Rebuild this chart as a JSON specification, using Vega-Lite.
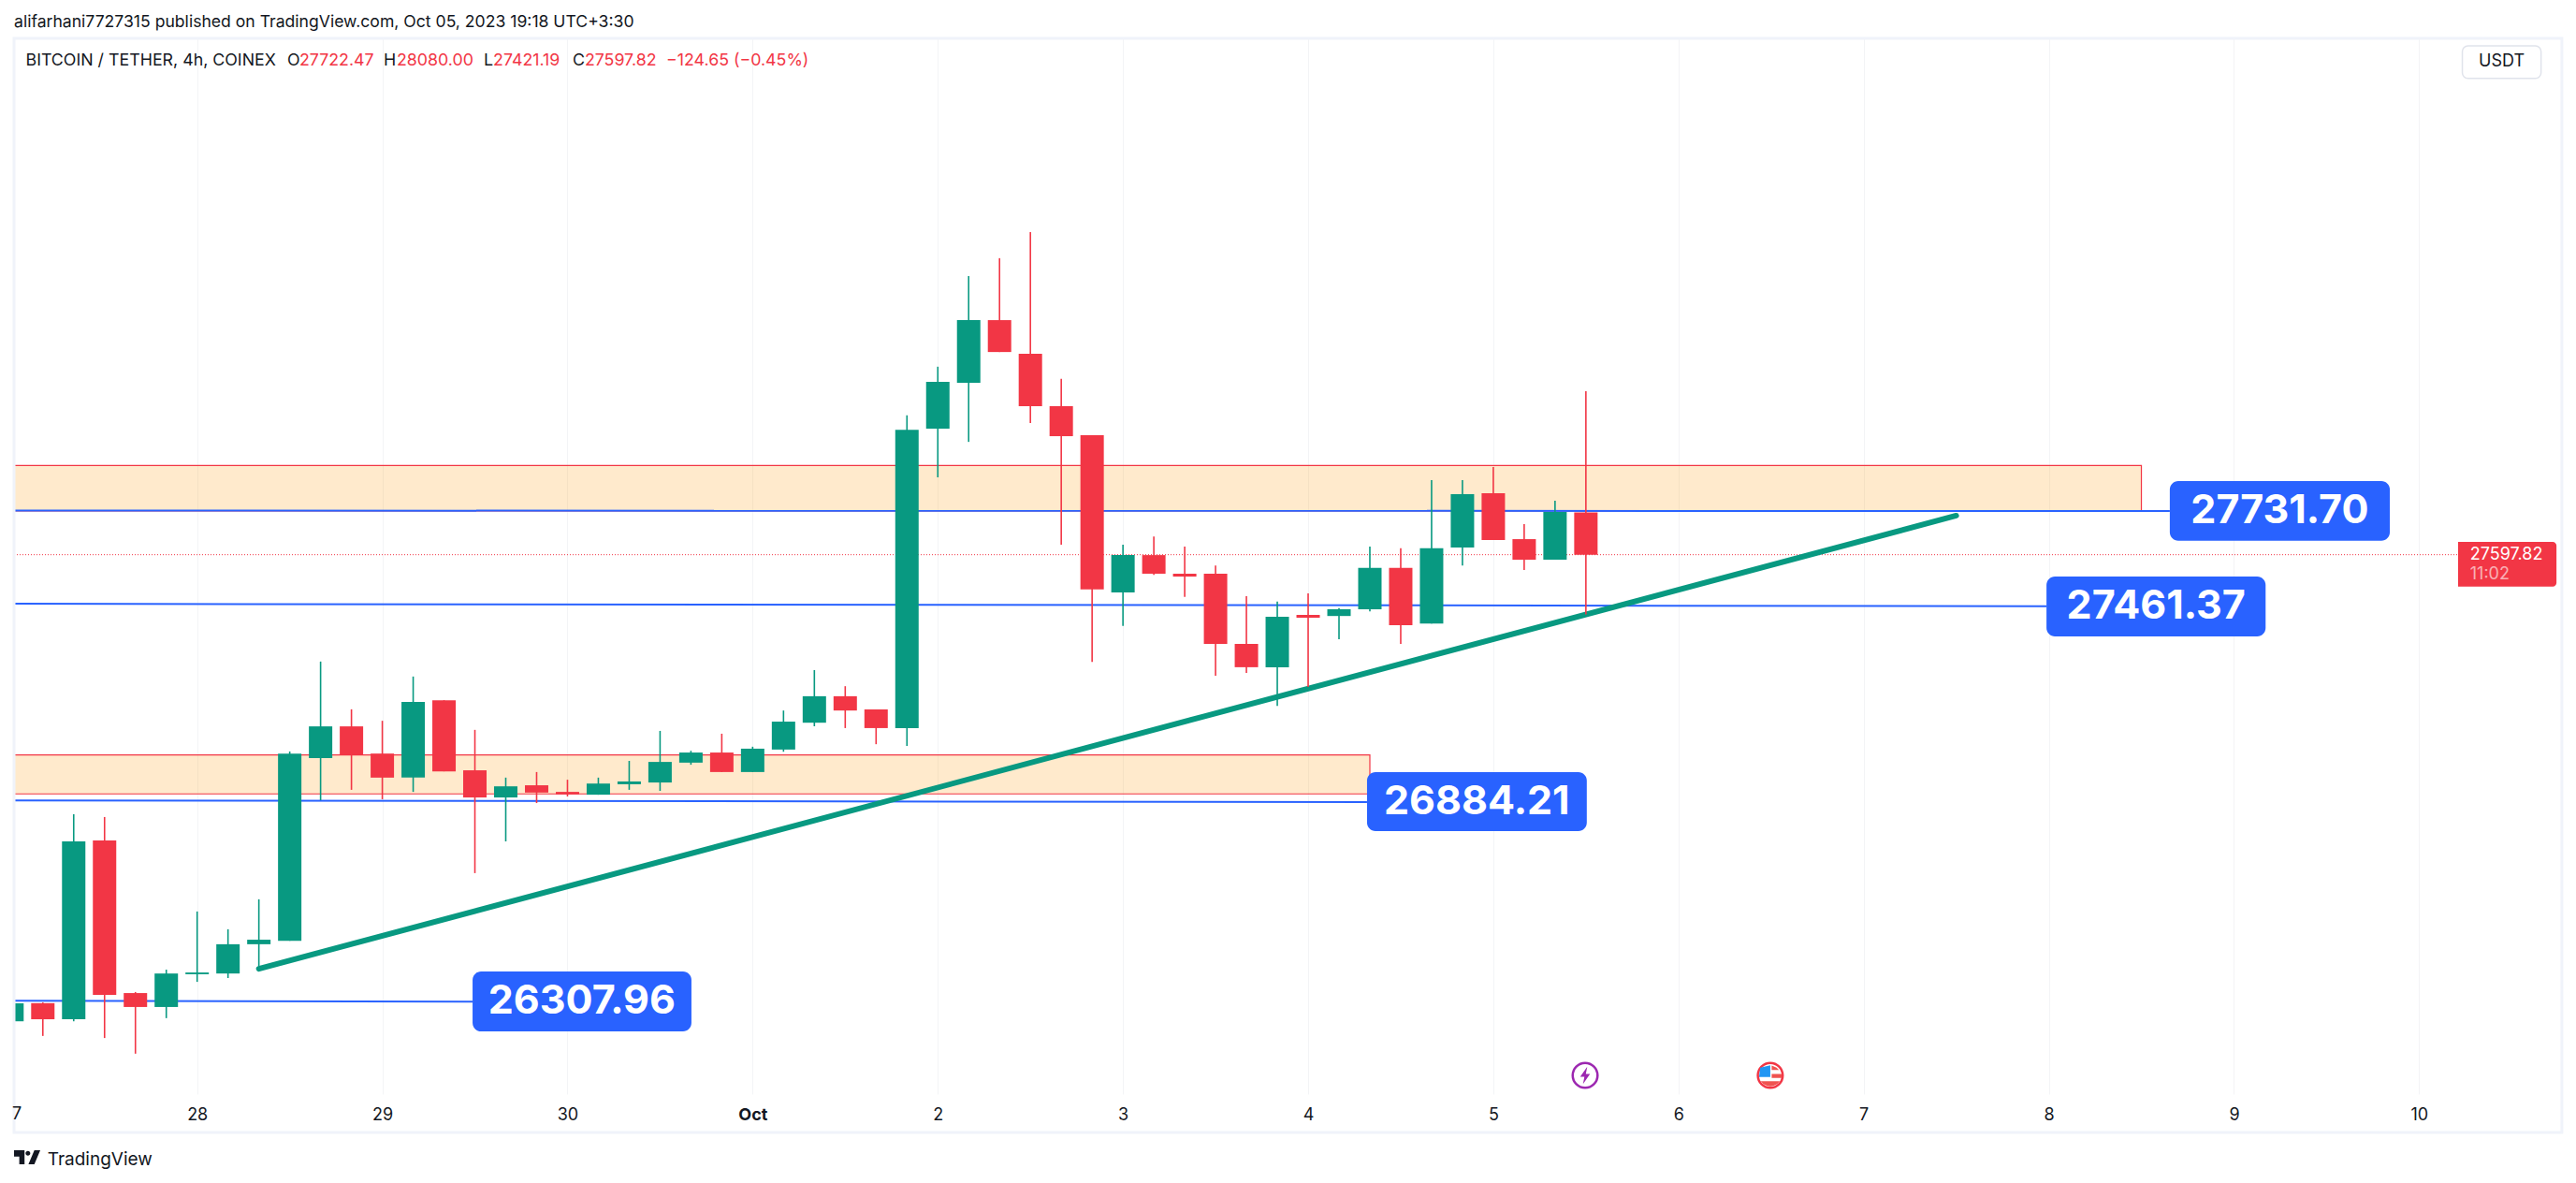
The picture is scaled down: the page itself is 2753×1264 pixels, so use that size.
{
"$schema":"https://vega.github.io/schema/vega-lite/v6.json",
"width":2612,"height":1128,
"autosize":"none",
"padding":{"left":15,"top":41,"right":126,"bottom":95},
"background":"#ffffff",
"config":{"view":{"stroke":null},"font":"Inter"},
"datasets":{
"candles":[
{"t":"2023-09-27T00:00:00Z","o":26221,"c":26274,"h":26274,"l":26221,"dir":"up"},
{"t":"2023-09-27T04:00:00Z","o":26274.5,"c":26227,"h":26276.6,"l":26177.8,"dir":"down"},
{"t":"2023-09-27T08:00:00Z","o":26227,"c":26751.8,"h":26832,"l":26221,"dir":"up"},
{"t":"2023-09-27T12:00:00Z","o":26754.9,"c":26299.2,"h":26823.8,"l":26171.6,"dir":"down"},
{"t":"2023-09-27T16:00:00Z","o":26304.3,"c":26263.2,"h":26307.4,"l":26125.4,"dir":"down"},
{"t":"2023-09-27T20:00:00Z","o":26263.2,"c":26362,"h":26373.3,"l":26230.3,"dir":"up"},
{"t":"2023-09-28T00:00:00Z","o":26359.9,"c":26365,"h":26545,"l":26337.3,"dir":"up"},
{"t":"2023-09-28T04:00:00Z","o":26362,"c":26448.4,"h":26492.6,"l":26348.6,"dir":"up"},
{"t":"2023-09-28T08:00:00Z","o":26448.4,"c":26461.7,"h":26581,"l":26379.4,"dir":"up"},
{"t":"2023-09-28T12:00:00Z","o":26458.6,"c":27011,"h":27017.2,"l":26458.6,"dir":"up"},
{"t":"2023-09-28T16:00:00Z","o":26997.6,"c":27091.2,"h":27282.5,"l":26873.2,"dir":"up"},
{"t":"2023-09-28T20:00:00Z","o":27091.2,"c":27006.9,"h":27141.6,"l":26904,"dir":"down"},
{"t":"2023-09-29T00:00:00Z","o":27011,"c":26940,"h":27107.7,"l":26876.2,"dir":"down"},
{"t":"2023-09-29T04:00:00Z","o":26940,"c":27163.2,"h":27238.3,"l":26897.9,"dir":"up"},
{"t":"2023-09-29T08:00:00Z","o":27168.4,"c":26958.5,"h":27168.4,"l":26958.5,"dir":"down"},
{"t":"2023-09-29T12:00:00Z","o":26961.6,"c":26881.4,"h":27080.9,"l":26658.2,"dir":"down"},
{"t":"2023-09-29T16:00:00Z","o":26881.4,"c":26914.3,"h":26940,"l":26751.8,"dir":"up"},
{"t":"2023-09-29T20:00:00Z","o":26917.4,"c":26895.8,"h":26956.5,"l":26864.9,"dir":"down"},
{"t":"2023-09-30T00:00:00Z","o":26897.9,"c":26890.6,"h":26933.8,"l":26884.5,"dir":"down"},
{"t":"2023-09-30T04:00:00Z","o":26889.6,"c":26922.5,"h":26940,"l":26889.6,"dir":"up"},
{"t":"2023-09-30T08:00:00Z","o":26920.5,"c":26928.7,"h":26989.4,"l":26904,"dir":"up"},
{"t":"2023-09-30T12:00:00Z","o":26925.6,"c":26986.3,"h":27077.9,"l":26900.9,"dir":"up"},
{"t":"2023-09-30T16:00:00Z","o":26984.2,"c":27014,"h":27019.2,"l":26978,"dir":"up"},
{"t":"2023-09-30T20:00:00Z","o":27014,"c":26956.5,"h":27069.6,"l":26956.5,"dir":"down"},
{"t":"2023-10-01T00:00:00Z","o":26956.5,"c":27025.4,"h":27031.2,"l":26956.5,"dir":"up"},
{"t":"2023-10-01T04:00:00Z","o":27022.8,"c":27105.2,"h":27138,"l":27016.4,"dir":"up"},
{"t":"2023-10-01T08:00:00Z","o":27102,"c":27180.2,"h":27257.4,"l":27091.5,"dir":"up"},
{"t":"2023-10-01T12:00:00Z","o":27180.2,"c":27138,"h":27209.8,"l":27086.2,"dir":"down"},
{"t":"2023-10-01T16:00:00Z","o":27141.2,"c":27086.2,"h":27141.2,"l":27038.6,"dir":"down"},
{"t":"2023-10-01T20:00:00Z","o":27086.2,"c":27966.5,"h":28008.8,"l":27033.3,"dir":"up"},
{"t":"2023-10-02T00:00:00Z","o":27969.7,"c":28108.1,"h":28152.5,"l":27826,"dir":"up"},
{"t":"2023-10-02T04:00:00Z","o":28104.9,"c":28289.9,"h":28419.9,"l":27930.6,"dir":"up"},
{"t":"2023-10-02T08:00:00Z","o":28289.9,"c":28195.8,"h":28472.7,"l":28195.8,"dir":"down"},
{"t":"2023-10-02T12:00:00Z","o":28190.5,"c":28036.2,"h":28549.9,"l":27986.6,"dir":"down"},
{"t":"2023-10-02T16:00:00Z","o":28036.2,"c":27947.5,"h":28116.6,"l":27627.3,"dir":"down"},
{"t":"2023-10-02T20:00:00Z","o":27950.6,"c":27495.2,"h":27950.6,"l":27281.7,"dir":"down"},
{"t":"2023-10-03T00:00:00Z","o":27486.7,"c":27596.6,"h":27627.3,"l":27387.4,"dir":"up"},
{"t":"2023-10-03T04:00:00Z","o":27596.6,"c":27541.6,"h":27651.6,"l":27538.5,"dir":"down"},
{"t":"2023-10-03T08:00:00Z","o":27541.6,"c":27533.2,"h":27622,"l":27473,"dir":"down"},
{"t":"2023-10-03T12:00:00Z","o":27541.6,"c":27334.5,"h":27566,"l":27240.5,"dir":"down"},
{"t":"2023-10-03T16:00:00Z","o":27334.5,"c":27265.8,"h":27475.1,"l":27248.9,"dir":"down"},
{"t":"2023-10-03T20:00:00Z","o":27265.8,"c":27414.8,"h":27459.2,"l":27151.7,"dir":"up"},
{"t":"2023-10-04T00:00:00Z","o":27420.1,"c":27411.7,"h":27483.5,"l":27207.7,"dir":"down"},
{"t":"2023-10-04T04:00:00Z","o":27416.9,"c":27437,"h":27440.2,"l":27348.3,"dir":"up"},
{"t":"2023-10-04T08:00:00Z","o":27437,"c":27558.6,"h":27622,"l":27430.7,"dir":"up"},
{"t":"2023-10-04T12:00:00Z","o":27558.6,"c":27389.5,"h":27616.7,"l":27334.5,"dir":"down"},
{"t":"2023-10-04T16:00:00Z","o":27394.8,"c":27616.7,"h":27817.5,"l":27394.8,"dir":"up"},
{"t":"2023-10-04T20:00:00Z","o":27618.8,"c":27776.3,"h":27817.5,"l":27566,"dir":"up"},
{"t":"2023-10-05T00:00:00Z","o":27779,"c":27640.9,"h":27856.3,"l":27640.9,"dir":"down"},
{"t":"2023-10-05T04:00:00Z","o":27643.7,"c":27582.9,"h":27687.9,"l":27552.5,"dir":"down"},
{"t":"2023-10-05T08:00:00Z","o":27582.9,"c":27723.8,"h":27757,"l":27582.9,"dir":"up"},
{"t":"2023-10-05T12:00:00Z","o":27722.47,"c":27597.82,"h":28080,"l":27421.19,"dir":"down"}
],
"bands":[
{"t":"2023-09-27T00:16:00Z","t2":"2023-10-08T12:00:00Z","p":27861,"p2":27727},
{"t":"2023-09-27T00:16:00Z","t2":"2023-10-04T08:00:00Z","p":27007,"p2":26892}
],
"levels":[
{"id":"a","t":"2023-09-27T00:16:00Z","p":27728},{"id":"a","t":"2023-10-08T15:41:00Z","p":27726.7},
{"id":"b","t":"2023-09-27T00:16:00Z","p":27453},{"id":"b","t":"2023-10-07T23:42:00Z","p":27446},
{"id":"c","t":"2023-09-27T00:16:00Z","p":26873},{"id":"c","t":"2023-10-04T07:38:00Z","p":26868},
{"id":"d","t":"2023-09-27T00:16:00Z","p":26282},{"id":"d","t":"2023-09-29T11:42:00Z","p":26279}
],
"trend":[{"t":"2023-09-28T08:00:00Z","p":26376},{"t":"2023-10-07T12:00:00Z","p":27713}],
"last":[{"t":"2023-09-27T00:16:00Z","t2":"2023-10-10T05:03:00Z","p":27597.82}],
"boxes":[
{"t":"2023-10-08T15:41:00Z","t2":"2023-10-09T20:12:00Z","p":27815.1,"p2":27639.2},
{"t":"2023-10-07T23:42:00Z","t2":"2023-10-09T04:06:00Z","p":27533.4,"p2":27356.6},
{"t":"2023-10-04T07:38:00Z","t2":"2023-10-05T12:07:00Z","p":26956.2,"p2":26782.3},
{"t":"2023-09-29T11:42:00Z","t2":"2023-09-30T16:04:00Z","p":26367.9,"p2":26191.2}
],
"boxText":[
{"t":"2023-10-09T05:56:00Z","p":27727,"txt":"27731.70"},
{"t":"2023-10-08T13:54:00Z","p":27445,"txt":"27461.37"},
{"t":"2023-10-04T21:52:00Z","p":26869,"txt":"26884.21"},
{"t":"2023-09-30T01:52:00Z","p":26279.6,"txt":"26307.96"}
],
"publisher":[
{"t":"2023-09-27T00:16:00Z","p":29168.3,"txt":"alifarhani7727315 published on TradingView.com, Oct 05, 2023 19:18 UTC+3:30"}
],
"dark":[
{"t":"2023-09-27T01:47:00Z","p":29055,"txt":"BITCOIN / TETHER, 4h, COINEX"},
{"t":"2023-09-28T11:41:00Z","p":29055,"txt":"O"},
{"t":"2023-09-29T00:10:00Z","p":29055,"txt":"H"},
{"t":"2023-09-29T13:09:00Z","p":29055,"txt":"L"},
{"t":"2023-09-30T00:40:00Z","p":29055,"txt":"C"}
],
"brand":[{"t":"2023-09-27T04:36:00Z","p":25813,"txt":"TradingView"}],
"red":[
{"t":"2023-09-28T13:15:00Z","p":29055,"txt":"27722.47"},
{"t":"2023-09-29T01:52:00Z","p":29055,"txt":"28080.00"},
{"t":"2023-09-29T14:22:00Z","p":29055,"txt":"27421.19"},
{"t":"2023-09-30T02:14:00Z","p":29055,"txt":"27597.82"},
{"t":"2023-09-30T12:48:00Z","p":29055,"txt":"−124.65 (−0.45%)"}
],
"clipped":[{"t":"2023-09-27T00:38:00Z","p":25945.4,"txt":"7"}],
"usdt":[{"t":"2023-10-10T05:36:00Z","t2":"2023-10-10T15:48:00Z","p":29099.3,"p2":29003}],
"usdtText":[{"t":"2023-10-10T10:42:00Z","p":29051,"txt":"USDT"}],
"priceTag":[{"t":"2023-10-10T05:03:00Z","t2":"2023-10-10T17:48:00Z","p":27635.6,"p2":27503.8}],
"priceTagText":[{"t":"2023-10-10T06:36:00Z","p":27597.7,"txt":"27597.82"}],
"countdown":[{"t":"2023-10-10T06:36:00Z","p":27539.7,"txt":"11:02"}],
"frame":[{"t":"2023-09-27T00:16:00Z","t2":"2023-10-10T18:30:00Z","p":29121.3,"p2":25893.1}],
"boltEvent":[{"t":"2023-10-05T11:54:00Z","p":26061.5}],
"flagEvent":[{"t":"2023-10-06T11:54:00Z","p":26061.5}],
"logo":[{"t":"2023-09-27T01:58:00Z","p":25819.8}]
},
"encoding":{
"x":{"field":"t","type":"temporal","title":null,
 "scale":{"type":"utc","padding":0,"domain":["2023-09-27T00:16:00Z","2023-10-10T05:03:00Z"]},
 "axis":{"grid":true,"gridColor":"#F3F4F6","gridWidth":1,"domain":false,"ticks":false,"labelFont":"Inter","labelFontSize":18,"labelColor":"#131722","labelPadding":13,"labelOverlap":false,"labelFlush":false,"labelBound":false,
  "values":["2023-09-28T00:00:00Z","2023-09-29T00:00:00Z","2023-09-30T00:00:00Z","2023-10-01T00:00:00Z","2023-10-02T00:00:00Z","2023-10-03T00:00:00Z","2023-10-04T00:00:00Z","2023-10-05T00:00:00Z","2023-10-06T00:00:00Z","2023-10-07T00:00:00Z","2023-10-08T00:00:00Z","2023-10-09T00:00:00Z","2023-10-10T00:00:00Z"],
  "labelExpr":"utcdate(datum.value)==1 ? 'Oct' : utcFormat(datum.value,'%-d')",
  "labelFontWeight":{"condition":{"test":"utcdate(datum.value)==1","value":"bold"},"value":"normal"}}},
"y":{"field":"p","type":"quantitative","title":null,
 "scale":{"domain":[26006.2,29121.3],"nice":false,"zero":false},
 "axis":{"orient":"right","grid":true,"gridColor":"#F3F4F6","gridWidth":1,"domain":false,"ticks":false,"labelFont":"Inter","labelFontSize":18,"labelColor":"#131722","labelPadding":13,"format":".2f","labelOverlap":false,"labelBound":false,"labelFlush":false,
  "values":[26200,26400,26600,26800,27000,27200,27400,27600,27800,28000,28200,28400,28600,28800,29000]}}
},
"layer":[
{"data":{"name":"bands"},"mark":{"type":"rect","fill":"#FF9800","fillOpacity":0.2,"stroke":"#F23645","strokeWidth":1.2},
 "encoding":{"x2":{"field":"t2"},"y2":{"field":"p2"}}},
{"data":{"name":"levels"},"mark":{"type":"line","color":"#2962FF","strokeWidth":2},
 "encoding":{"detail":{"field":"id"}}},
{"data":{"name":"last"},"mark":{"type":"rule","color":"#F23645","strokeWidth":1,"strokeDash":[1,2]},
 "encoding":{"x2":{"field":"t2"}}},
{"data":{"name":"trend"},"mark":{"type":"line","color":"#089981","strokeWidth":6,"strokeCap":"round"},"encoding":{}},
{"data":{"name":"candles"},"mark":{"type":"rule","strokeWidth":1.6,"opacity":1,"clip":true},
 "encoding":{"y":{"field":"l","type":"quantitative","axis":null,"scale":{"domain":[26006.2,29121.3],"nice":false,"zero":false}},"y2":{"field":"h"},
  "color":{"field":"dir","type":"nominal","legend":null,"scale":{"domain":["up","down"],"range":["#089981","#F23645"]}}}},
{"data":{"name":"candles"},"mark":{"type":"bar","size":25,"opacity":1,"clip":true},
 "encoding":{"y":{"field":"o","type":"quantitative","axis":null,"scale":{"domain":[26006.2,29121.3],"nice":false,"zero":false}},"y2":{"field":"c"},
  "color":{"field":"dir","type":"nominal","legend":null,"scale":{"domain":["up","down"],"range":["#089981","#F23645"]}}}},
{"data":{"name":"boxes"},"mark":{"type":"rect","fill":"#2962FF","cornerRadius":9},
 "encoding":{"x2":{"field":"t2"},"y2":{"field":"p2"}}},
{"data":{"name":"boxText"},"mark":{"type":"text","font":"Inter","fontSize":43,"fontWeight":700,"color":"#ffffff","align":"center","baseline":"middle"},
 "encoding":{"text":{"field":"txt"}}},
{"data":{"name":"frame"},"mark":{"type":"rect","fill":null,"stroke":"#F0F3FA","strokeWidth":3},
 "encoding":{"x2":{"field":"t2"},"y2":{"field":"p2"}}},
{"data":{"name":"usdt"},"mark":{"type":"rect","fill":"#ffffff","stroke":"#E0E3EB","strokeWidth":1.5,"cornerRadius":6},
 "encoding":{"x2":{"field":"t2"},"y2":{"field":"p2"}}},
{"data":{"name":"usdtText"},"mark":{"type":"text","font":"Inter","fontSize":18,"color":"#131722","align":"center","baseline":"middle"},
 "encoding":{"text":{"field":"txt"}}},
{"data":{"name":"publisher"},"mark":{"type":"text","font":"Inter","fontSize":17.6,"color":"#131722","align":"left","baseline":"middle"},
 "encoding":{"text":{"field":"txt"}}},
{"data":{"name":"dark"},"mark":{"type":"text","font":"Inter","fontSize":17.8,"color":"#131722","align":"left","baseline":"middle"},
 "encoding":{"text":{"field":"txt"}}},
{"data":{"name":"brand"},"mark":{"type":"text","font":"Inter","fontSize":19,"color":"#131722","align":"left","baseline":"middle"},
 "encoding":{"text":{"field":"txt"}}},
{"data":{"name":"red"},"mark":{"type":"text","font":"Inter","fontSize":17.8,"color":"#F23645","align":"left","baseline":"middle"},
 "encoding":{"text":{"field":"txt"}}},
{"data":{"name":"clipped"},"mark":{"type":"text","font":"Inter","fontSize":18,"color":"#131722","align":"center","baseline":"middle"},
 "encoding":{"text":{"field":"txt"}}},
{"data":{"name":"priceTag"},"mark":{"type":"rect","fill":"#F23645","cornerRadiusTopRight":4,"cornerRadiusBottomRight":4},
 "encoding":{"x2":{"field":"t2"},"y2":{"field":"p2"}}},
{"data":{"name":"priceTagText"},"mark":{"type":"text","font":"Inter","fontSize":18,"color":"#ffffff","align":"left","baseline":"middle"},
 "encoding":{"text":{"field":"txt"}}},
{"data":{"name":"countdown"},"mark":{"type":"text","font":"Inter","fontSize":18,"color":"#ffffff","opacity":0.6,"align":"left","baseline":"middle"},
 "encoding":{"text":{"field":"txt"}}},
{"data":{"name":"boltEvent"},"mark":{"type":"point","shape":"circle","size":707,"filled":true,"fill":"#ffffff","stroke":"#9C27B0","strokeWidth":2.5,"opacity":1},"encoding":{}},
{"data":{"name":"boltEvent"},"mark":{"type":"point","shape":"M0.15,-0.62 L-0.35,0.1 L-0.05,0.1 L-0.15,0.62 L0.35,-0.1 L0.05,-0.1 Z","size":900,"filled":true,"fill":"#9C27B0","opacity":1},"encoding":{}},
{"data":{"name":"flagEvent"},"mark":{"type":"point","shape":"circle","size":707,"filled":true,"fill":"#ffffff","stroke":"#F23645","strokeWidth":2.5,"opacity":1},"encoding":{}},
{"data":{"name":"flagEvent"},"mark":{"type":"point","shape":"M-0.72,-0.55 L0,-0.72 L0,0.12 L-0.8,0.12 Z","size":900,"filled":true,"fill":"#2196F3","opacity":1},"encoding":{}},
{"data":{"name":"flagEvent"},"mark":{"type":"point","shape":"M0.1,-0.1 L0.82,-0.1 L0.82,0.18 L0.1,0.18 Z M0.1,-0.7 L0.45,-0.55 L0.62,-0.38 L0.1,-0.38 Z M-0.68,0.42 L0.68,0.42 Q0.4,0.78 0,0.78 Q-0.4,0.78 -0.68,0.42 Z","size":900,"filled":true,"fill":"#EF5350","opacity":1},"encoding":{}},
{"data":{"name":"logo"},"mark":{"type":"point","shape":"M-1,-0.53 L-0.2,-0.53 L-0.2,0.53 L-0.6,0.53 L-0.6,-0.05 L-1,-0.05 Z M0.55,-0.53 L1,-0.53 L0.55,0.53 L0.1,0.53 Z M-0.12,-0.3 A0.18,0.18 0 1 0 0.24,-0.3 A0.18,0.18 0 1 0 -0.12,-0.3 Z","size":784,"filled":true,"fill":"#131722","opacity":1},"encoding":{}}
]
}
